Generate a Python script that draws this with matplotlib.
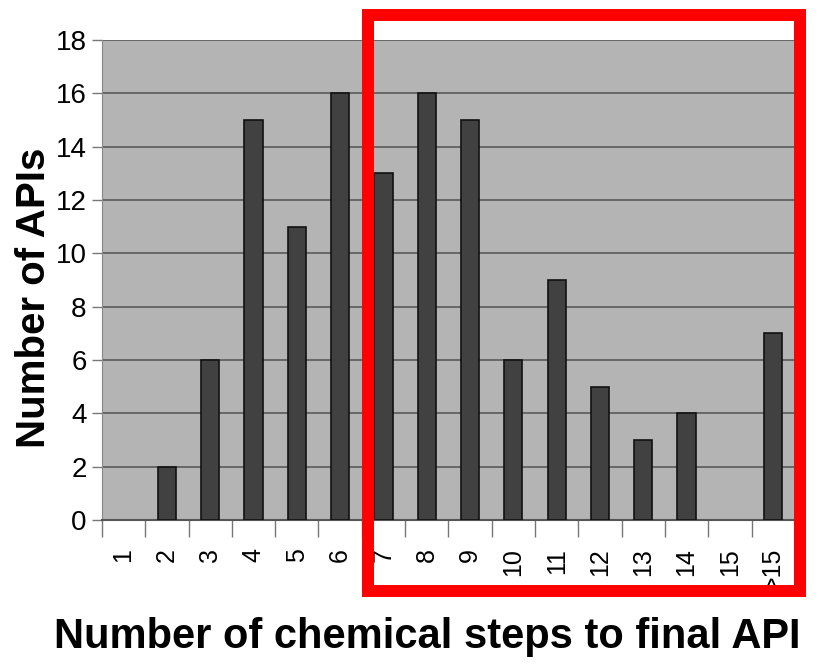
import numpy as np
import matplotlib.pyplot as plt
from matplotlib.patches import Rectangle
from matplotlib.ticker import FixedLocator, MultipleLocator

# Data
steps = ['1', '2', '3', '4', '5', '6', '7', '8', '9', '10', '11', '12', '13', '14', '15', '>15']
num_apis = [0, 2, 6, 15, 11, 16, 13, 16, 15, 6, 9, 5, 3, 4, 0, 7]

fig = plt.figure(figsize=(8.19, 6.64), dpi=100)
ax = fig.add_axes([0.1245, 0.2169, 0.846, 0.7229])
ax.set_facecolor('#b4b4b4')

x = np.arange(len(steps))
bars = ax.bar(x, num_apis, width=0.42, color='#414141', edgecolor='#111111', linewidth=1.2, zorder=3)
# empty categories leave no mark
for b, v in zip(bars, num_apis):
    if v == 0:
        b.set_visible(False)

ax.set_xlim(-0.5, len(steps) - 0.5)
ax.set_ylim(0, 18)
ax.yaxis.set_major_locator(MultipleLocator(2))
ax.grid(axis='y', color='#5a5a5a', linewidth=1.2, zorder=1)

# category labels, ticks between categories
ax.set_xticks(x)
ax.set_xticklabels(steps, rotation=90, fontsize=18, family='Liberation Sans', va='top')
ax.tick_params(axis='x', which='major', length=0, pad=20)
ax.xaxis.set_minor_locator(FixedLocator(np.arange(-0.5, len(steps), 1)))
ax.tick_params(axis='x', which='minor', length=12, color='#777777', width=1)
ax.tick_params(axis='y', length=7, color='#777777', width=1, pad=4)
for lab in ax.get_yticklabels():
    lab.set_family(['Liberation Sans Narrow', 'Liberation Sans'])
    lab.set_fontsize(20)

for s in ['top', 'right']:
    ax.spines[s].set_visible(False)
ax.spines['left'].set_color('#888888')
ax.spines['bottom'].set_color('#555555')
ax.spines['bottom'].set_linewidth(1.5)

fig.text(0.041, 0.551, 'Number of APIs', rotation=90, ha='center', va='center',
         fontsize=29, fontweight='bold', family='Liberation Sans')
fig.text(0.522, 0.04, 'Number of chemical steps to final API', ha='center', va='center',
         fontsize=30, fontweight='bold', family='Liberation Sans')

# red highlight box
fig.patches.append(Rectangle((0.4493, 0.110), 0.5275, 0.8674, transform=fig.transFigure,
                             fill=False, edgecolor='#ff0000', linewidth=8.6, zorder=10))

fig.savefig('out.png', dpi=100)
